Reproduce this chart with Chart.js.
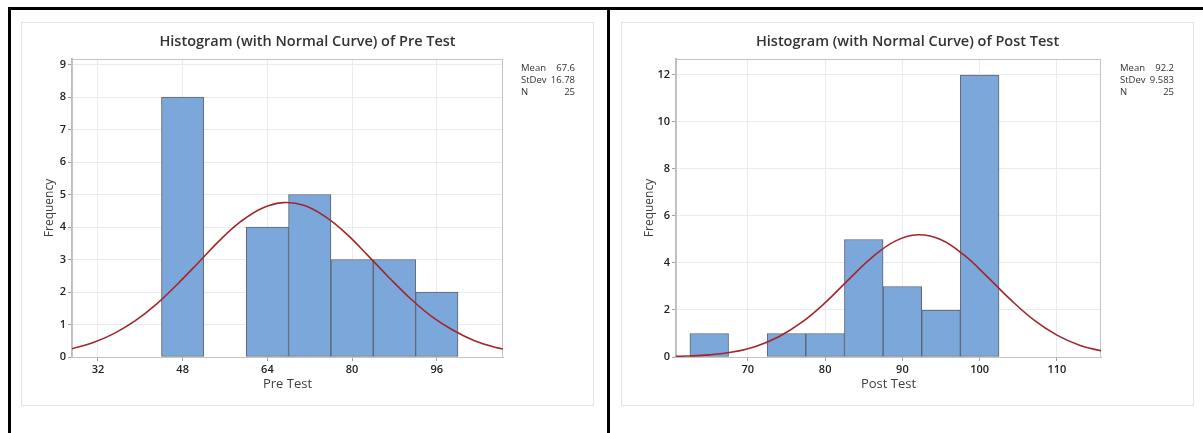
<!DOCTYPE html>
<html lang="en">
<head>
    <meta charset="UTF-8"/>
    <title>Histograms with Normal Curve</title>
    <script src="https://cdn.jsdelivr.net/npm/chart.js"></script>
    <style>
        html, body {
            margin: 0;
            background: #fff;
        }

        body {
            position: relative;
            width: 1203px;
            height: 433px;
            overflow: hidden;
        }

        .frame {
            position: absolute;
            background: #000;
        }

        .panel {
            position: absolute;
            top: 23px;
            width: 571px;
            height: 382px;
            box-shadow: 0 0 0 1px #e2e2e2;
        }
    </style>
</head>
<body>
<div class="frame" style="left:8px; top:7px; width:1195px; height:3px;"></div>
<div class="frame" style="left:8px; top:7px; width:3px; height:426px;"></div>
<div class="frame" style="left:607px; top:7px; width:3px; height:426px;"></div>

<div class="panel" style="left:22px;"><canvas id="preChart" width="571" height="382"></canvas></div>
<div class="panel" style="left:622px;"><canvas id="postChart" width="571" height="382"></canvas></div>

<script>
    // stats box
    const statLabels = ['Mean', 'StDev', 'N'];
    const preStats = ['67.6', '16.78', '25'];
    const postStats = ['92.2', '9.583', '25'];

    // Pre Test histogram (bin midpoints, counts)
    const preBins = [48, 56, 64, 72, 80, 88, 96];
    const preCounts = [8, 0, 4, 5, 3, 3, 2];
    // fitted normal curve
    const preCurveX = [27, 31, 35, 39, 43, 47, 51, 55, 59, 63, 67, 71, 75, 79, 83, 87, 91, 95, 99, 103, 107, 111];
    const preCurveY = [0.25, 0.44, 0.72, 1.11, 1.62, 2.24, 2.91, 3.59, 4.17, 4.58, 4.75, 4.66, 4.31, 3.78, 3.12,
        2.44, 1.80, 1.25, 0.83, 0.51, 0.30, 0.17];
    const preTicksX = [32, 48, 64, 80, 96];
    const preTicksY = [0, 1, 2, 3, 4, 5, 6, 7, 8, 9];

    // Post Test histogram
    const postBins = [65, 70, 75, 80, 85, 90, 95, 100];
    const postCounts = [1, 0, 1, 1, 5, 3, 2, 12];
    const postCurveX = [59, 62, 65, 68, 71, 74, 77, 80, 83, 86, 89, 92, 95, 98, 101, 104, 107, 110, 113, 116];
    const postCurveY = [0.01, 0.04, 0.09, 0.21, 0.45, 0.86, 1.48, 2.31, 3.28, 4.22, 4.92, 5.20, 4.99, 4.33, 3.41,
        2.44, 1.58, 0.93, 0.49, 0.24];
    const postTicksX = [70, 80, 90, 100, 110];
    const postTicksY = [0, 2, 4, 6, 8, 10, 12];

    Chart.defaults.font.family = '"Open Sans", "Noto Sans", sans-serif';
    Chart.defaults.color = '#333';

    const panelText = {
        id: 'panelText',
        beforeDatasetsDraw(chart) {
            const {ctx, chartArea: a} = chart;
            ctx.save();
            ctx.strokeStyle = '#c4c4c4';
            ctx.lineWidth = 1;
            ctx.strokeRect(a.left + 0.5, a.top + 0.5, a.right - a.left - 1, a.bottom - a.top);
            ctx.restore();
        },
        afterDraw(chart, args, opts) {
            const ctx = chart.ctx;
            ctx.save();
            ctx.fillStyle = '#333';
            ctx.textBaseline = 'middle';
            ctx.textAlign = 'center';
            ctx.font = '600 14.5px "Open Sans"';
            ctx.fillText(opts.title, chart.width / 2, 19);
            ctx.font = '9.5px "Open Sans"';
            statLabels.forEach((lbl, i) => {
                ctx.textAlign = 'left';
                ctx.fillText(lbl, opts.statX, 45 + i * 12);
                ctx.textAlign = 'right';
                ctx.fillText(opts.stats[i], opts.statX + 54, 45 + i * 12);
            });
            ctx.restore();
        }
    };

    function makeHistogram(id, o) {
        new Chart(document.getElementById(id), {
            type: 'bar',
            data: {
                datasets: [{
                    type: 'line',
                    data: o.curveX.map((x, i) => ({x, y: o.curveY[i]})),
                    borderColor: '#a3262b',
                    borderWidth: 1.6,
                    pointRadius: 0,
                    tension: 0.4,
                    order: 0
                }, {
                    type: 'bar',
                    data: o.bins.map((x, i) => ({x, y: o.counts[i]})),
                    backgroundColor: '#7ba7da',
                    borderColor: '#5c6470',
                    borderWidth: 1,
                    borderSkipped: false,
                    barPercentage: 1,
                    categoryPercentage: 1,
                    order: 1
                }]
            },
            options: {
                responsive: false,
                animation: false,
                layout: {padding: {top: 36, right: o.padRight, left: 0, bottom: 0}},
                plugins: {
                    legend: {display: false},
                    tooltip: {enabled: false},
                    panelText: {title: o.title, stats: o.stats, statX: o.statX}
                },
                scales: {
                    x: {
                        type: 'linear',
                        offset: false,
                        min: o.xMin,
                        max: o.xMax,
                        afterBuildTicks: s => { s.ticks = o.ticksX.map(v => ({value: v})); },
                        afterFit: s => { s.height = 48; },
                        grid: {offset: false, color: '#ebebeb', tickColor: '#a0a0a0', tickLength: 4},
                        border: {color: '#bdbdbd'},
                        ticks: {padding: 2, font: {size: 11, weight: '600'}, color: '#222'},
                        title: {display: true, text: o.xTitle, font: {size: 13}, color: '#404040', padding: {top: 0, bottom: 13}}
                    },
                    y: {
                        min: 0,
                        max: o.yMax,
                        afterBuildTicks: s => { s.ticks = o.ticksY.map(v => ({value: v})); },
                        afterFit: s => { s.width = o.yWidth; },
                        grid: {color: '#ebebeb', tickColor: '#a0a0a0', tickLength: 4},
                        border: {color: '#bdbdbd', width: 2},
                        ticks: {padding: 2, font: {size: 11, weight: '600'}, color: '#222'},
                        title: {display: true, text: 'Frequency', font: {size: 12}, color: '#404040', padding: {top: 20, bottom: 0}}
                    }
                }
            },
            plugins: [panelText]
        });
    }

    makeHistogram('preChart', {
        title: 'Histogram (with Normal Curve) of Pre Test',
        xTitle: 'Pre Test',
        stats: preStats, statX: 499,
        bins: preBins, counts: preCounts,
        curveX: preCurveX, curveY: preCurveY,
        ticksX: preTicksX, ticksY: preTicksY,
        xMin: 27.1, xMax: 108.5, yMax: 9.17,
        yWidth: 50, padRight: 90
    });

    makeHistogram('postChart', {
        title: 'Histogram (with Normal Curve) of Post Test',
        xTitle: 'Post Test',
        stats: postStats, statX: 498,
        bins: postBins, counts: postCounts,
        curveX: postCurveX, curveY: postCurveY,
        ticksX: postTicksX, ticksY: postTicksY,
        xMin: 60.7, xMax: 115.7, yMax: 12.68,
        yWidth: 54, padRight: 92
    });
</script>
</body>
</html>
